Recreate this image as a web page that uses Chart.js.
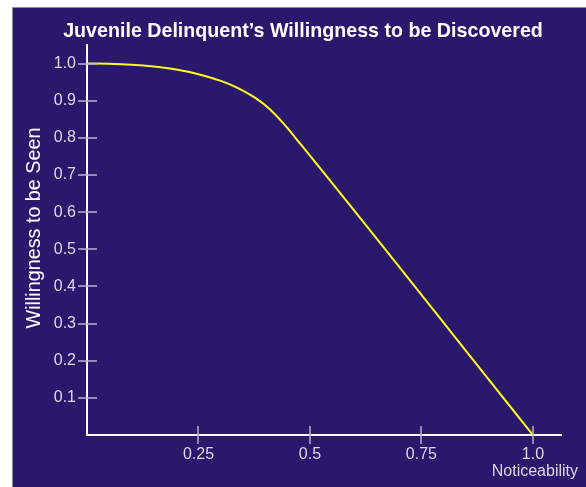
<!DOCTYPE html>
<html>
<head>
<meta charset="utf-8">
<script src="https://cdn.jsdelivr.net/npm/chart.js@4.4.1/dist/chart.umd.min.js"></script>
<style>
  html, body { margin: 0; padding: 0; background: #fff; }
  #wrap { width: 586px; height: 487px; position: relative; }
</style>
</head>
<body>
<div id="wrap"><canvas id="chart" width="586" height="487"></canvas></div>
<script>
// data
const noticeability = [0, 0.05, 0.1, 0.15, 0.2, 0.25, 0.3, 0.34, 0.38, 0.41, 0.44, 0.48, 1.0];
const willingness  = [1.0, 0.9995, 0.997, 0.992, 0.984, 0.9715, 0.9535, 0.9335, 0.9055, 0.877, 0.8395, 0.7815, 0.0];

const xTicks = [0.25, 0.5, 0.75, 1.0];
const xTickLabels = ["0.25", "0.5", "0.75", "1.0"];
const yTicks = [0.1, 0.2, 0.3, 0.4, 0.5, 0.6, 0.7, 0.8, 0.9, 1.0];
const yTickLabels = ["0.1", "0.2", "0.3", "0.4", "0.5", "0.6", "0.7", "0.8", "0.9", "1.0"];

const chartTitle = "Juvenile Delinquent\u2019s Willingness to be Discovered";
const xTitle = "Noticeability";
const yTitle = "Willingness to be Seen";

const navy = "#2a186c";
const labelColor = "#dcdaea";
const tickColor = "#b5b1d0";

const points = noticeability.map((x, i) => ({ x: x, y: willingness[i] }));

// panel background, crossing tick marks and extra texts
const panelPlugin = {
    id: "panel",
    beforeDraw(chart) {
        const ctx = chart.ctx;
        ctx.save();
        ctx.fillStyle = "#fff";
        ctx.fillRect(0, 0, chart.width, chart.height);
        ctx.fillStyle = navy;
        ctx.fillRect(13, 7, chart.width - 13, chart.height - 7);
        ctx.strokeStyle = "#8a8a8a";
        ctx.lineWidth = 1;
        ctx.beginPath();
        ctx.moveTo(12.5, chart.height);
        ctx.lineTo(12.5, 7.5);
        ctx.lineTo(chart.width, 7.5);
        ctx.stroke();
        ctx.restore();
    },
    afterDraw(chart) {
        const ctx = chart.ctx;
        const xs = chart.scales.x, ys = chart.scales.y;
        const area = chart.chartArea;
        ctx.save();
        ctx.strokeStyle = tickColor;
        ctx.lineWidth = 1.5;
        ctx.beginPath();
        yTicks.forEach(v => {
            const y = Math.round(ys.getPixelForValue(v));
            ctx.moveTo(area.left - 9, y);
            ctx.lineTo(area.left + 10, y);
        });
        xTicks.forEach(v => {
            const x = Math.round(xs.getPixelForValue(v));
            ctx.moveTo(x, area.bottom - 9);
            ctx.lineTo(x, area.bottom + 9);
        });
        ctx.stroke();

        // title
        ctx.fillStyle = "#fff";
        ctx.textAlign = "center";
        ctx.textBaseline = "alphabetic";
        ctx.font = "bold 18px 'Liberation Sans'";
        const w = ctx.measureText(chartTitle).width;
        const size = 18 * 480 / w;
        ctx.font = "bold " + size.toFixed(2) + "px 'Liberation Sans'";
        ctx.fillText(chartTitle, 303, 37);

        // y axis title
        ctx.save();
        ctx.translate(35, 228);
        ctx.rotate(-Math.PI / 2);
        ctx.textBaseline = "middle";
        ctx.font = "19px 'Liberation Sans'";
        const yw = ctx.measureText(yTitle).width;
        ctx.font = (19 * 201 / yw).toFixed(2) + "px 'Liberation Sans'";
        ctx.fillText(yTitle, 0, 0);
        ctx.restore();

        // x axis title, bottom right
        ctx.fillStyle = labelColor;
        ctx.textAlign = "right";
        ctx.font = "16px 'Liberation Sans'";
        ctx.fillText(xTitle, 578, 476);
        ctx.restore();
    }
};

new Chart(document.getElementById("chart"), {
    type: "scatter",
    data: {
        datasets: [{
            data: points,
            showLine: true,
            borderColor: "#ffff1a",
            borderWidth: 2,
            pointRadius: 0,
            cubicInterpolationMode: "monotone",
            fill: false
        }]
    },
    options: {
        responsive: false,
        animation: false,
        layout: { padding: { left: 0, top: 45, right: 25, bottom: 0 } },
        plugins: {
            legend: { display: false },
            title: { display: false },
            tooltip: { enabled: false }
        },
        scales: {
            x: {
                type: "linear",
                min: 0,
                max: 1.063,
                afterBuildTicks: s => { s.ticks = xTicks.map(v => ({ value: v })); },
                afterFit: s => { s.height = 52; },
                grid: { display: false, drawTicks: false },
                border: { display: true, color: "#ffffff", width: 2 },
                ticks: {
                    padding: 10,
                    color: labelColor,
                    font: { family: "'Liberation Sans'", size: 16 },
                    maxRotation: 0,
                    callback: (v, i) => xTickLabels[i]
                }
            },
            y: {
                type: "linear",
                min: 0,
                max: 1.05,
                afterBuildTicks: s => { s.ticks = yTicks.map(v => ({ value: v })); },
                afterFit: s => { s.width = 87; },
                grid: { display: false, drawTicks: false },
                border: { display: true, color: "#ffffff", width: 2 },
                ticks: {
                    padding: 11,
                    color: labelColor,
                    font: { family: "'Liberation Sans'", size: 16 },
                    callback: (v, i) => yTickLabels[i]
                }
            }
        }
    },
    plugins: [panelPlugin]
});
</script>
</body>
</html>
